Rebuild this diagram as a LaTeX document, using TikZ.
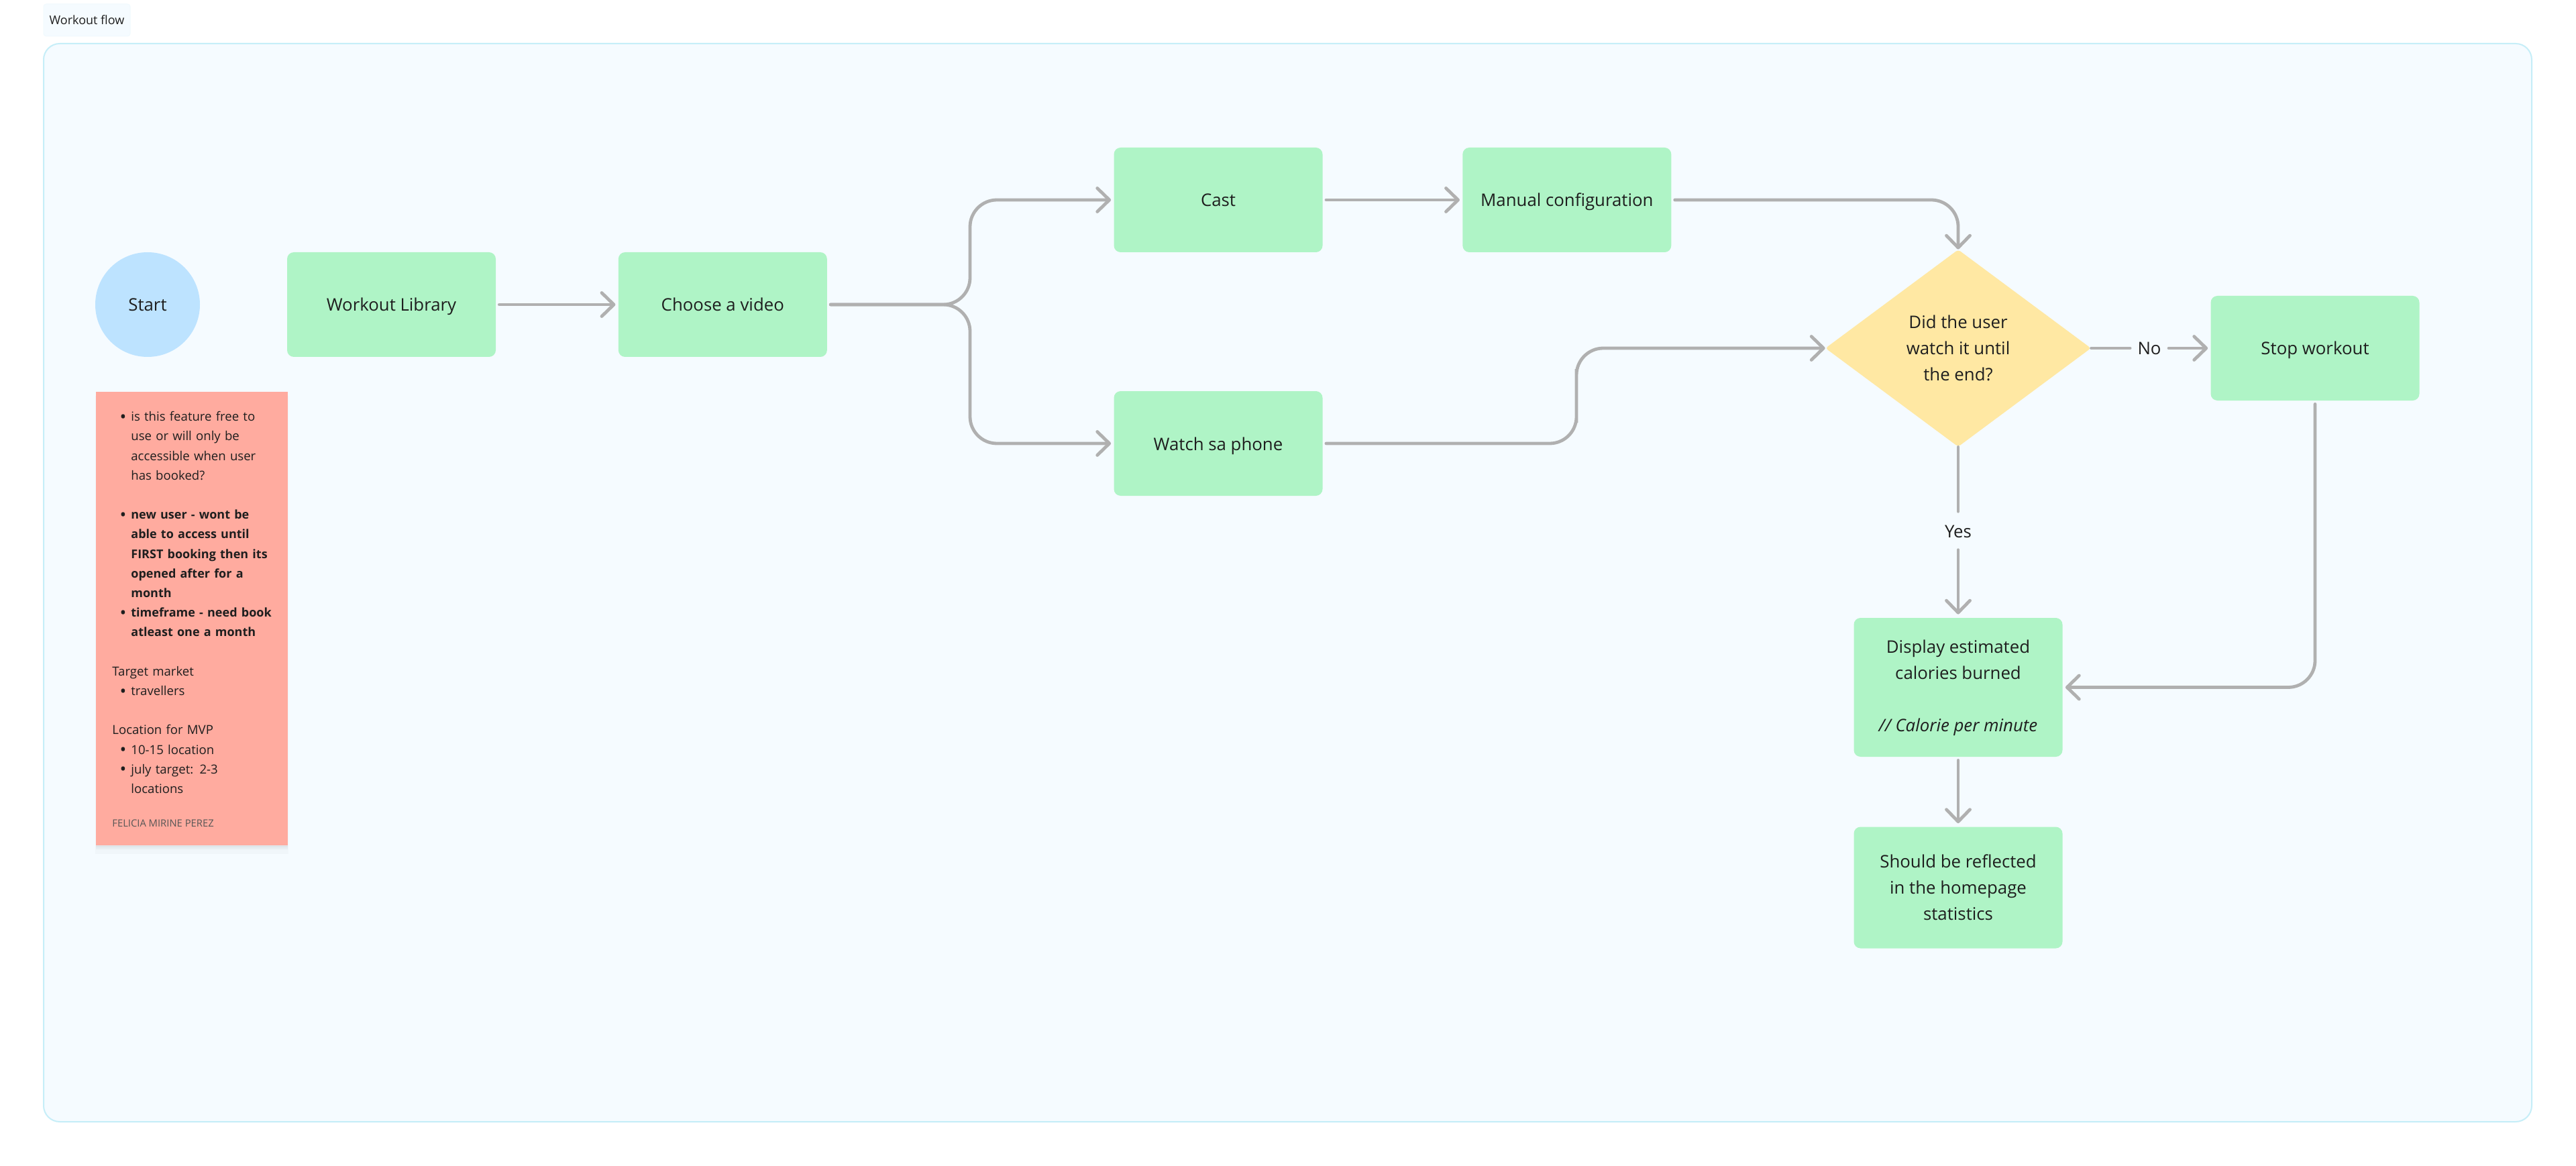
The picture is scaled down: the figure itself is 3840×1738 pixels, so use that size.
\documentclass[tikz,border=0pt]{standalone}
\usepackage{fontspec}
\setmainfont{Open Sans}
\usetikzlibrary{positioning}
\usetikzlibrary{arrows.meta}
\usetikzlibrary{shapes.geometric}
\usetikzlibrary{shadows}

\definecolor{framefill}{HTML}{F5FBFF}
\definecolor{frameline}{HTML}{C6EEF8}
\definecolor{boxgreen}{HTML}{AFF4C6}
\definecolor{startblue}{HTML}{BDE3FF}
\definecolor{noterose}{HTML}{FFAB9F}
\definecolor{askyellow}{HTML}{FFE8A3}
\definecolor{flowgrey}{HTML}{B0B0B0}
\definecolor{inkdark}{HTML}{1E1E1E}

\newcommand{\noteitem}[1]{\hspace*{14pt}\llap{\raisebox{-1.3pt}{\fontsize{13}{14.6}\selectfont\textbullet}\hspace{3.5pt}}#1\par}
\newcommand{\notecont}[1]{\hspace*{14pt}#1\par}
\newcommand{\notestrong}[1]{{\fontsize{9}{14.6}\selectfont\bfseries #1}}
\newcommand{\notegap}{\vspace{14.6pt}}

\begin{document}
\begin{tikzpicture}[x=.5pt, y=-.5pt, every node/.style={text=inkdark},
    stepbox/.style = {fill=boxgreen, rounded corners=5pt, minimum width=155.5pt, minimum height=78pt, align=center, font=\fontsize{12.9}{19.5}\selectfont, inner sep=0pt},
    stepline/.style = {stepbox, text height=13pt, text depth=3pt},
    startdot/.style = {circle, fill=startblue, minimum size=78pt, inner sep=0pt, font=\fontsize{12.9}{19.5}\selectfont, text height=13pt, text depth=3pt},
    askdiamond/.style = {diamond, fill=askyellow, minimum width=198pt, minimum height=147pt, aspect=1.35, inner sep=0pt, align=center, rounded corners=2pt, font=\fontsize{12.9}{19.5}\selectfont},
    notebox/.style = {fill=noterose, minimum width=142.7pt, minimum height=338pt, inner sep=0pt, anchor=north west,
        drop shadow={shadow xshift=0pt, shadow yshift=-1.5pt, fill=black, opacity=.03},
        drop shadow={shadow xshift=0pt, shadow yshift=-3pt, fill=black, opacity=.03},
        drop shadow={shadow xshift=0pt, shadow yshift=-4.5pt, shadow scale=1.01, fill=black, opacity=.02}},
    flowtag/.style = {font=\fontsize{12.9}{19.5}\selectfont, inner sep=0pt},
    flow/.style = {draw=flowgrey, line width=2.4pt, line cap=round, -{Straight Barb[length=9pt, width=17.5pt, round]}},
    flowbare/.style = {draw=flowgrey, line width=2.4pt, line cap=round},
    ]
    \useasboundingbox (0,0) rectangle (3840,1738);
    \fill[white] (0,0) rectangle (3840,1738);

    % frame and its label
    \draw[fill=framefill, draw=frameline, line width=1pt, rounded corners=12pt] (65,65) rectangle (3774,1672);
    \node[fill=framefill, draw=framefill!90!frameline, line width=.5pt, rounded corners=2pt, minimum width=64.5pt, minimum height=24pt, inner sep=0pt, font=\fontsize{9}{12}\selectfont] (title) at (129.5,30) {Workout flow};

    % first row
    \node[startdot] (start) at (220,454) {Start};
    \node[stepline] (library) at (583.5,454) {Workout Library};
    \node[stepline] (choose) [right=91pt of library] {Choose a video};
    \node[stepline] (cast) at (1816,298) {Cast};
    \node[stepline] (manual) [right=104pt of cast] {Manual configuration};
    \node[stepline] (phone) at (1816,661) {Watch sa phone};

    % decision and what follows
    \node[askdiamond] (ask) at (2919,519) {Did the user\\watch it until\\the end?};
    \node[stepline] (stop) at (3451,519) {Stop workout};
    \node[stepbox, minimum height=103.5pt] (burned) at (2919,1024.5) {\rule{0pt}{11pt}Display estimated\\calories burned\\[19.5pt]\textit{// Calorie per minute}};
    \node[stepbox, minimum height=90.5pt] (stats) at (2919,1323) {Should be reflected\\in the homepage\\statistics};
    \node[flowtag] (no) at (3204,519) {No};
    \node[flowtag] (yes) at (2919,792) {Yes};

    % sticky note
    \node[notebox] (note) at (142.7,584) {};
    \node[anchor=north west, inner sep=0pt, text width=125pt, font=\fontsize{9.3}{14.6}\selectfont] (notetext) at (167,613) {%
        \noteitem{is this feature free to}
        \notecont{use or will only be}
        \notecont{accessible when user}
        \notecont{has booked?}
        \notegap
        \noteitem{\notestrong{new user - wont be}}
        \notecont{\notestrong{able to access until}}
        \notecont{\notestrong{FIRST booking then its}}
        \notecont{\notestrong{opened after for a}}
        \notecont{\notestrong{month}}
        \noteitem{\notestrong{timeframe - need book}}
        \notecont{\notestrong{atleast one a month}}
        \notegap
        Target market\par
        \noteitem{travellers}
        \notegap
        Location for MVP\par
        \noteitem{10-15 location}
        \noteitem{july target: 2-3}
        \notecont{locations}};
    \node[anchor=west, inner sep=0pt, font=\fontsize{7.4}{9}\selectfont, text=inkdark!75] (author) at (167,1227) {FELICIA MIRINE PEREZ};

    % helper points for the bends
    \coordinate (branch) at (1446,454);
    \coordinate (bend) at (2350,590);

    % connectors
    \draw[flow, shorten >=2pt, shorten <=2.5pt] (library) -- (choose);
    \draw[flow, shorten >=2pt, shorten <=2.5pt, rounded corners=20pt] (choose) -- (branch) |- (cast);
    \draw[flow, shorten >=2pt, shorten <=2.5pt, rounded corners=20pt] (choose) -- (branch) |- (phone);
    \draw[flow, shorten >=2pt, shorten <=2.5pt] (cast) -- (manual);
    \draw[flow, shorten <=2.5pt, rounded corners=20pt] (manual) -| (ask);
    \draw[flow, shorten <=2.5pt, rounded corners=20pt] (phone) -| (bend) |- (ask);
    \draw[flowbare, shorten >=5.5pt] (ask) -- (no);
    \draw[flow, shorten >=2pt, shorten <=5.5pt] (no) -- (stop);
    \draw[flowbare, shorten >=10pt] (ask) -- (yes);
    \draw[flow, shorten >=2.5pt, shorten <=9pt] (yes) -- (burned);
    \draw[flow, shorten >=2pt, shorten <=2.5pt, rounded corners=20pt] (stop) |- (burned);
    \draw[flow, shorten >=2.5pt, shorten <=2.5pt] (burned) -- (stats);
\end{tikzpicture}
\end{document}
